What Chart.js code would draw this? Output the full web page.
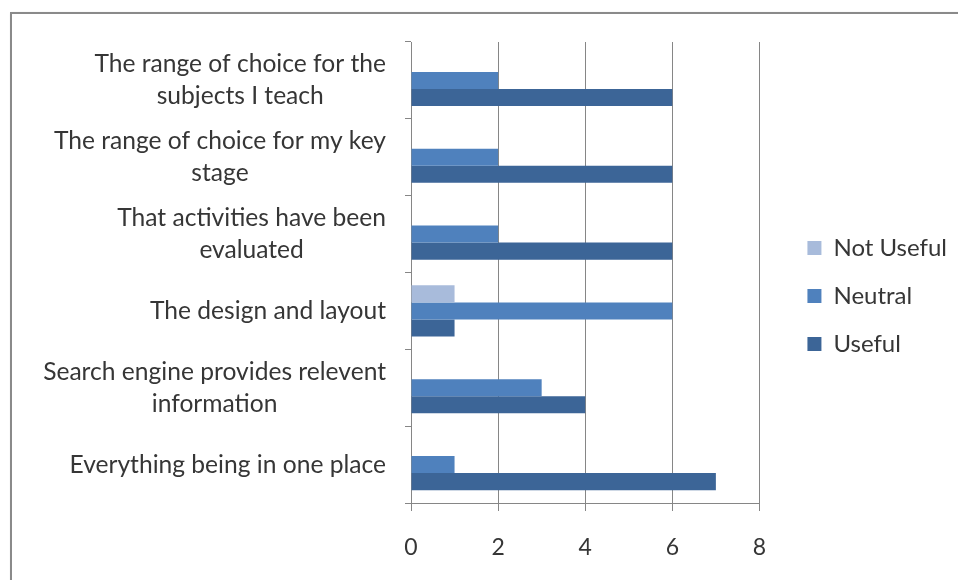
<!DOCTYPE html>
<html>
<head>
<meta charset="utf-8">
<script src="https://cdn.jsdelivr.net/npm/chart.js@4/dist/chart.umd.min.js"></script>
<style>
  html, body { margin: 0; padding: 0; background: #fff; overflow: hidden; }
  #wrap { position: relative; width: 958px; height: 580px; }
  #frame { position: absolute; left: 10px; top: 12px; width: 1000px; height: 700px; border: 2px solid #8a8a8a; box-shadow: 1px 1px 2px #bbb; }
  canvas { position: absolute; left: 0; top: 0; }
</style>
</head>
<body>
<div id="wrap">
  <div id="frame"></div>
  <canvas id="chart" width="958" height="580"></canvas>
</div>
<script>
const categories = [
  ['The range of choice for the', 'subjects I teach'],
  ['The range of choice for my key', 'stage'],
  ['That activities have been', 'evaluated'],
  ['The design and layout'],
  ['Search engine provides relevent', 'information'],
  ['Everything being in one place']
]
const notUseful = [0, 0, 0, 1, 0, 0]
const neutral = [2, 2, 2, 6, 3, 1]
const useful = [6, 6, 6, 1, 4, 7]
const xTicks = [0, 2, 4, 6, 8]

const labelFont = '24.6px Lato'
const textColor = '#363636'
const axisColor = '#868686'

// draws the y labels centred line by line, block right-aligned against the axis
const centredLabels = {
  id: 'centredLabels',
  afterDraw(chart) {
    const ctx = chart.ctx
    const y = chart.scales.y
    ctx.save()
    ctx.font = labelFont
    ctx.fillStyle = textColor
    ctx.textAlign = 'center'
    ctx.textBaseline = 'middle'
    const lineH = 32
    categories.forEach((lines, i) => {
      const w = Math.max(...lines.map(l => ctx.measureText(l).width))
      const cx = y.right - 25 - w / 2
      const cy = y.getPixelForTick(i)
      lines.forEach((l, j) => {
        ctx.fillText(l, cx, cy + (j - (lines.length - 1) / 2) * lineH)
      })
    })
    ctx.restore()
  }
}

// nudge the legend to where it sits in the picture
const moveLegend = {
  id: 'moveLegend',
  afterLayout(chart) {
    const lg = chart.legend
    lg.top -= 15
    lg.bottom -= 15
    lg.left += 24
    lg.right += 24
  }
}

const ctx = document.querySelector('#chart').getContext('2d')
const myChart = new Chart(ctx, {
  type: 'bar',
  data: {
    labels: categories,
    datasets: [{
      label: 'Not Useful',
      data: notUseful,
      backgroundColor: '#a8bbdb'
    }, {
      label: 'Neutral',
      data: neutral,
      backgroundColor: '#4f81bd'
    }, {
      label: 'Useful',
      data: useful,
      backgroundColor: '#3c6597'
    }]
  },
  options: {
    indexAxis: 'y',
    responsive: false,
    animation: false,
    datasets: {
      bar: {
        barPercentage: 1,
        categoryPercentage: 0.665
      }
    },
    layout: {
      padding: { top: 42, left: 11, right: 25, bottom: 0 }
    },
    plugins: {
      tooltip: { enabled: false },
      legend: {
        position: 'right',
        labels: {
          font: { family: 'Lato', size: 24 },
          color: textColor,
          boxWidth: 14,
          boxHeight: 14,
          padding: 24
        }
      }
    },
    scales: {
      x: {
        min: 0,
        max: 8,
        afterBuildTicks: scale => { scale.ticks = xTicks.map(v => ({ value: v })) },
        afterFit: scale => { scale.height = 77 },
        ticks: {
          font: { family: 'Lato', size: 23 },
          color: textColor,
          padding: 23
        },
        grid: {
          color: axisColor,
          tickLength: 8
        },
        border: { color: axisColor }
      },
      y: {
        afterFit: scale => { scale.width = 400 },
        ticks: { color: 'transparent' },
        grid: {
          offset: true,
          drawOnChartArea: false,
          color: axisColor,
          tickLength: 6
        },
        border: { color: axisColor }
      }
    }
  },
  plugins: [centredLabels, moveLegend]
});
</script>
</body>
</html>
